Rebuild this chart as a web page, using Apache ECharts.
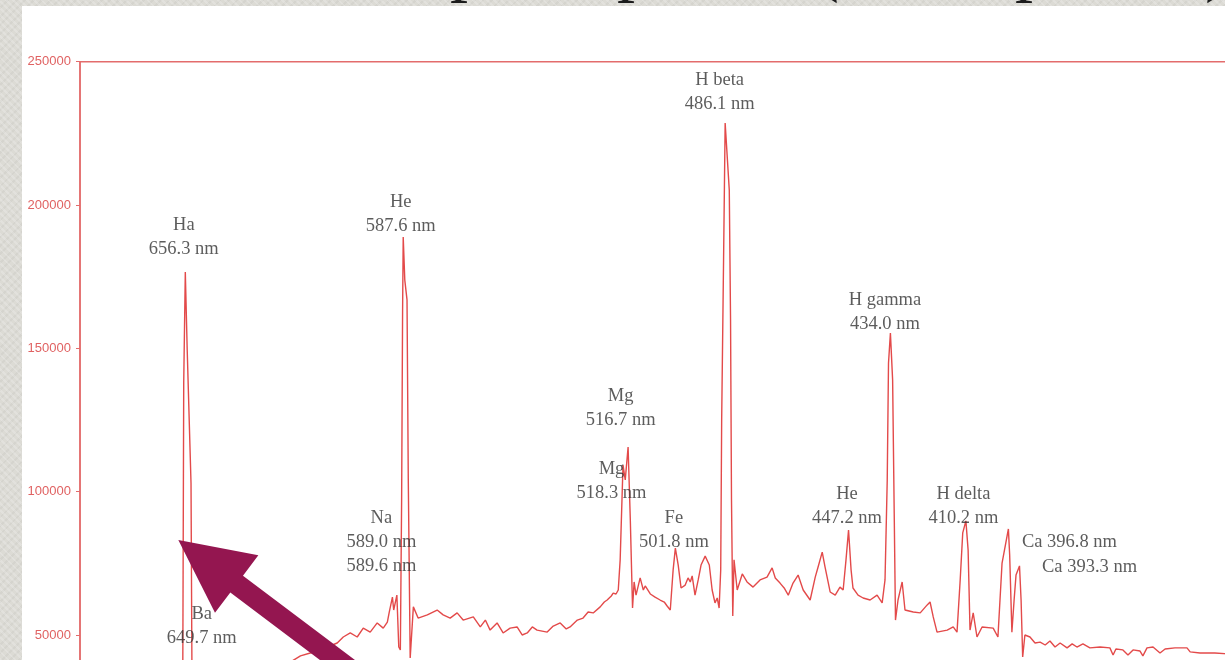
<!DOCTYPE html>
<html>
<head>
<meta charset="utf-8">
<script src="https://cdn.jsdelivr.net/npm/echarts@6/dist/echarts.min.js"></script>
<style>
  html, body { margin: 0; padding: 0; width: 1225px; height: 660px; overflow: hidden; }
  body {
    background-color: #dcdbd5;
    background-image:
      repeating-linear-gradient(45deg, rgba(255,255,255,0.18) 0 2px, rgba(0,0,0,0) 2px 5px),
      repeating-linear-gradient(-45deg, rgba(0,0,0,0.03) 0 2px, rgba(0,0,0,0) 2px 6px);
  }
  /* the plot continues past the bottom and right edges of the page */
  #chart { width: 1260px; height: 800px; }
</style>
</head>
<body>
<div id="chart"></div>
<script>
// Stellar spectrum: intensity (counts) against wavelength (nm), red end on the left.
const wavelengths = [
  689.5, 680.0, 670.0, 662.0, 659.1, 657.1, 656.8, 656.3, 655.7, 654.5, 654.2, 651.6, 649.7, 647.0,
  642.1, 635.8, 629.5, 623.2, 620.0, 616.9, 615.3, 613.7, 611.5, 608.4, 606.5, 604.3, 602.1, 600.2,
  598.0, 595.8, 593.9, 592.6, 592.0, 591.0, 590.6, 589.6, 589.0, 588.5, 588.1, 587.8, 587.6, 587.1,
  586.4, 586.0, 585.4, 584.4, 582.9, 580.0, 576.9, 575.0, 572.8, 570.6, 568.7, 565.5, 563.3, 561.7,
  560.2, 558.0, 556.1, 553.9, 551.7, 550.1, 548.5, 546.9, 545.4, 542.2, 540.3, 538.1, 536.2, 535.0,
  532.7, 530.9, 529.3, 527.7, 525.5, 524.2, 523.3, 522.0, 521.4, 520.5, 519.8, 519.2, 518.3, 517.6,
  516.7, 516.0, 515.3, 514.8, 514.2, 512.9, 511.9, 511.3, 509.7, 508.2, 506.6, 505.3, 504.4, 503.4,
  502.5, 501.8, 500.9, 500.0, 498.7, 497.8, 497.1, 496.5, 495.6, 494.6, 493.7, 492.4, 491.1, 490.2,
  489.3, 488.6, 488.0, 487.5, 487.2, 486.6, 486.1, 484.8, 484.4, 484.1, 483.7, 483.3, 482.3, 480.7,
  479.2, 477.3, 475.1, 472.9, 471.3, 470.3, 468.8, 467.5, 466.2, 464.7, 463.1, 461.5, 459.3, 457.7,
  456.8, 455.5, 454.6, 453.0, 451.4, 449.9, 448.9, 448.0, 447.2, 446.4, 445.8, 444.2, 442.6, 440.4,
  438.2, 436.6, 435.7, 435.0, 434.6, 434.0, 433.3, 432.8, 432.4, 431.6, 430.3, 429.4, 426.8, 424.6,
  422.4, 421.5, 420.5, 419.3, 416.1, 414.2, 413.0, 412.0, 411.2, 410.2, 409.5, 408.9, 407.9, 406.7,
  405.1, 401.6, 400.1, 398.8, 396.8, 396.4, 395.7, 395.0, 394.4, 393.3, 392.8, 392.3, 391.6, 390.0,
  388.4, 386.8, 385.2, 383.7, 382.1, 380.5, 378.3, 376.7, 375.2, 373.3, 371.1, 367.9, 364.8, 363.8,
  362.9, 360.7, 359.1, 357.5, 355.3, 354.4, 353.1, 351.2, 349.0, 347.4, 344.3, 340.5, 339.5, 336.4,
  331.7, 327.6, 320.6
];
const intensities = [
  29500, 31000, 32000, 33000, 33500, 36000, 137900, 176600, 149400, 103000, 36000, 35500, 38500, 36000,
  37000, 38500, 39500, 40500, 42700, 43700, 44000, 43000, 45800, 47200, 49300, 50700, 49300, 52400,
  51000, 54200, 52400, 54500, 58000, 63200, 58700, 63900, 45800, 44800, 97100, 162300, 188800, 173800,
  166900, 104100, 42000, 59800, 55900, 57000, 58700, 57000, 55900, 57700, 55200, 56300, 52800, 55200,
  51700, 54200, 50700, 52400, 52800, 50000, 50700, 52800, 51700, 51000, 53100, 54200, 52100, 52800,
  55200, 55900, 58000, 57700, 59800, 61500, 62200, 63600, 64600, 64300, 65700, 76200, 109300, 104100,
  115600, 90100, 59400, 68500, 63900, 69900, 65700, 67100, 64300, 63200, 62200, 61500, 60100, 58700,
  72700, 80300, 74400, 66400, 67400, 69900, 68500, 70600, 63900, 69200, 74400, 77500, 74400, 65700,
  61200, 62900, 59400, 72700, 125000, 180800, 228600, 205200, 159900, 97100, 56600, 76200, 65700, 71300,
  68500, 66700, 69200, 70200, 73400, 69900, 68100, 66400, 63900, 68100, 70900, 65700, 62200, 70200,
  73700, 78900, 73700, 65000, 63900, 66700, 65700, 76200, 86600, 72700, 66400, 63900, 62900, 62200,
  63900, 61200, 69200, 104100, 144900, 155300, 138900, 92500, 55200, 62200, 68500, 58700, 58000, 57700,
  60500, 61500, 56300, 51000, 51700, 52800, 51000, 69200, 85600, 89800, 79600, 51700, 57700, 49300,
  52800, 52400, 49300, 75100, 87000, 77900, 51000, 62200, 70900, 74100, 62200, 42300, 50000, 49300,
  47200, 47500, 46500, 47900, 45800, 47200, 45500, 46900, 45800, 46900, 45500, 45800, 45500, 43000,
  45100, 44800, 43000, 44800, 44400, 42700, 45500, 45800, 43700, 45100, 45500, 45500, 44100, 43700,
  43700, 43400, 43000
];
const yTicks = [0, 50000, 100000, 150000, 200000, 250000];

// Identified lines: element name and rest wavelength(s) in nm.
const lineNames = ['Ha', 'Ba', 'Na', 'He', 'Mg', 'Mg', 'Fe', 'H beta', 'He', 'H gamma', 'H delta', 'Ca', 'Ca'];
const lineNm = [[656.3], [649.7], [589.0, 589.6], [587.6], [518.3], [516.7], [501.8], [486.1], [447.2], [434.0], [410.2], [396.8], [393.3]];

// Where each caption sits relative to its line (pixels), and whether it is a one-line caption.
const captionLayout = [
  { off: [-1, -58] }, { off: [-4, -65] }, { off: [-15, -88] }, { off: [-2, -46] },
  { off: [-11, -7] }, { off: [-7, -62] }, { off: [-1, -41] }, { off: [-5, -54] },
  { off: [-1, -47] }, { off: [-5, -45] }, { off: [-2, -38] },
  { off: [14, 2], inline: true }, { off: [23, -10], inline: true }
];

// Pointer arrow aims at this spot on the H-alpha line.
const arrowTip = [658.5, 83100];

const spectrum = wavelengths.map((w, i) => [w, intensities[i]]);
const captions = lineNames.map((name, i) => {
  const nms = lineNm[i];
  const anchor = nms[nms.length - 1];
  const lay = captionLayout[i];
  const text = lay.inline
    ? name + ' ' + nms[0].toFixed(1) + ' nm'
    : [name].concat(nms.map(v => v.toFixed(1) + ' nm')).join('\n');
  return {
    value: [anchor, intensities[wavelengths.indexOf(anchor)]],
    label: {
      show: true,
      formatter: text,
      position: lay.off,
      align: lay.inline ? 'left' : 'center',
      verticalAlign: 'top'
    }
  };
});

const chart = echarts.init(document.getElementById('chart'), null, { renderer: 'canvas' });
const AXIS_RED = '#e36c6c';
const HEAD_FONT = '72px "Liberation Serif"';

chart.setOption({
  animation: false,
  backgroundColor: 'transparent',
  graphic: [
    { id: 'panel', type: 'rect', z: -10, silent: true,
      shape: { x: 22, y: 6, width: 1240, height: 800 },
      style: { fill: '#ffffff' } },
    // Lower tails of the slide heading that runs above the page
    { id: 'h1', type: 'text', silent: true, x: 450, y: -31,
      style: { text: 'p', font: HEAD_FONT, fill: '#1c1c1c', verticalAlign: 'middle' } },
    { id: 'h2', type: 'text', silent: true, x: 617, y: -31,
      style: { text: 'p', font: HEAD_FONT, fill: '#1c1c1c', verticalAlign: 'middle' } },
    { id: 'h3', type: 'text', silent: true, x: 815, y: -31,
      style: { text: '(', font: HEAD_FONT, fill: '#1c1c1c', verticalAlign: 'middle' } },
    { id: 'h4', type: 'text', silent: true, x: 1015, y: -31,
      style: { text: 'p', font: HEAD_FONT, fill: '#1c1c1c', verticalAlign: 'middle' } },
    { id: 'h5', type: 'text', silent: true, x: 1205, y: -31,
      style: { text: ')', font: HEAD_FONT, fill: '#1c1c1c', verticalAlign: 'middle' } }
  ],
  grid: {
    left: 80, top: 61.7, right: 8, bottom: 21.7,
    show: true, borderColor: AXIS_RED, borderWidth: 1.5, backgroundColor: 'transparent'
  },
  xAxis: {
    type: 'value', inverse: true, min: 320, max: 689.5,
    show: false
  },
  yAxis: {
    type: 'value', min: yTicks[0], max: yTicks[yTicks.length - 1], interval: yTicks[1] - yTicks[0],
    splitLine: { show: false },
    axisLine: { show: true, lineStyle: { color: AXIS_RED, width: 1.5 } },
    axisTick: { show: true, length: 4, lineStyle: { color: AXIS_RED } },
    axisLabel: {
      showMinLabel: false, margin: 9,
      formatter: v => String(v),
      color: '#e06262', fontFamily: '"Liberation Sans", Arial, sans-serif', fontSize: 13
    }
  },
  series: [
    {
      type: 'line', data: spectrum, showSymbol: false, silent: true,
      lineStyle: { color: '#e34a4a', width: 1.4 }, z: 3
    },
    {
      type: 'scatter', data: captions, symbolSize: 1, silent: true, z: 4,
      itemStyle: { color: 'transparent' },
      label: {
        color: '#333333', fontFamily: '"Liberation Serif", "Times New Roman", serif',
        fontSize: 18.5, lineHeight: 24
      }
    }
  ]
});

// Arrow pointing at the H-alpha line
const [tx, ty] = chart.convertToPixel({ gridIndex: 0 }, arrowTip);
const ux = 0.799, uy = 0.602, nx = -0.602, ny = 0.799;
const P = (along, across) => [tx + along * ux + across * nx, ty + along * uy + across * ny];
chart.setOption({
  graphic: [{
    id: 'arrow', type: 'polygon', silent: true, z: 20,
    shape: { points: [P(0, 0), P(73, -36), P(73, -10.5), P(330, -10.5), P(330, 10.5), P(73, 10.5), P(73, 36)] },
    style: { fill: '#941650' }
  }]
});
</script>
</body>
</html>
